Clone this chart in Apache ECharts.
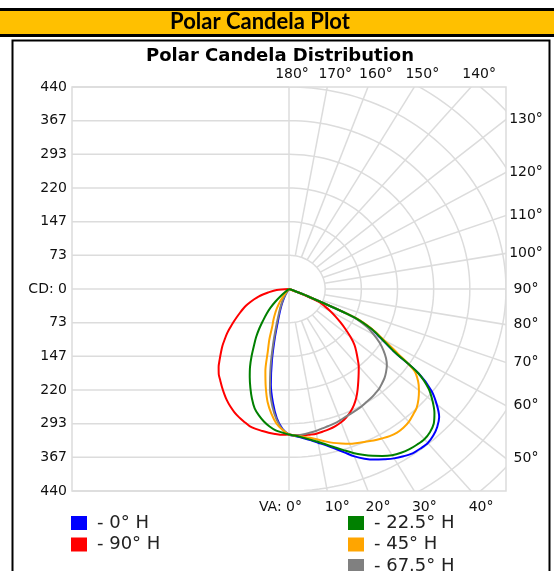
<!DOCTYPE html>
<html>
<head>
<meta charset="utf-8">
<title>Polar Candela Plot</title>
<script src="https://cdn.jsdelivr.net/npm/echarts@6/dist/echarts.min.js"></script>
<style>
  html, body { margin: 0; padding: 0; background: #fff; }
  #chart { width: 554px; height: 571px; }
</style>
</head>
<body>
<div id="chart"></div>
<script>
// vertical angles (deg from nadir) where the candela values are read
const VA = [0, 2.5, 5, 7.5, 10, 12.5, 15, 17.5, 20, 22.5, 25, 27.5, 30, 32.5, 35, 37.5,
  40, 42.5, 45, 47.5, 50, 52.5, 55, 57.5, 60, 62.5, 65, 67.5, 70, 72.5, 75, 77.5, 80, 85, 90];

// candela per plane (right half of the plot) and its opposite plane (left half)
const cd0 = [317, 321, 326, 332, 340, 349, 360, 373, 388, 400, 410, 418, 426, 432, 437, 438,
  438, 433, 425, 413, 391, 364, 321, 251, 216, 188, 145, 40, 5, 0, 0, 0, 0, 0, 0];
const cd180 = [317, 305, 283, 250, 212, 160, 112, 76, 56, 42, 31, 21, 13, 7, 3, 0,
  0, 0, 0, 0, 0, 0, 0, 0, 0, 0, 0, 0, 0, 0, 0, 0, 0, 0, 0];

const cd22 = [317, 320, 325, 331, 338, 347, 357, 368, 380, 391, 401, 410, 418, 423, 426, 427,
  427, 423, 415, 400, 380, 357, 320, 252, 217, 189, 145, 40, 5, 0, 0, 0, 0, 0, 0];
const cd202 = [317, 313, 309, 302, 293, 282, 269, 250, 229, 208, 187, 164, 142, 124, 105, 86,
  71, 56, 40, 24, 11, 3, 0, 0, 0, 0, 0, 0, 0, 0, 0, 0, 0, 0, 0];

const cd45 = [317, 320, 323, 327, 333, 340, 347, 353, 359, 363, 367, 372, 376, 380, 382, 381,
  378, 372, 366, 356, 344, 330, 310, 262, 222, 192, 148, 42, 5, 0, 0, 0, 0, 0, 0];
const cd225 = [317, 307, 294, 274, 250, 218, 185, 143, 116, 89, 75, 62, 50, 38, 26, 15,
  6, 0, 0, 0, 0, 0, 0, 0, 0, 0, 0, 0, 0, 0, 0, 0, 0, 0, 0];

const cd67 = [317, 319, 318, 316, 314, 311, 309, 307, 304, 301, 299, 297, 295, 292, 290, 287,
  284, 279, 274, 267, 259, 248, 234, 218, 198, 177, 140, 40, 5, 0, 0, 0, 0, 0, 0];
const cd247 = [317, 306, 286, 258, 222, 172, 124, 88, 64, 49, 37, 27, 18, 11, 5, 1,
  0, 0, 0, 0, 0, 0, 0, 0, 0, 0, 0, 0, 0, 0, 0, 0, 0, 0, 0];

const cd90 = [317, 319, 320, 320, 320, 318, 316, 313, 309, 303, 295, 285, 273, 259, 245, 232,
  220, 206, 193, 180, 163, 145, 128, 112, 97, 82, 68, 30, 5, 0, 0, 0, 0, 0, 0];
const cd270 = [317, 318, 317, 316, 314, 312, 309, 303, 297, 290, 282, 273, 263, 253, 243, 234,
  222, 208, 195, 183, 170, 158, 145, 133, 122, 112, 103, 94, 84, 74, 64, 53, 43, 25, 0];

// axis texts
const CD_MAX = 440;
const CD_LABELS = ['440', '367', '293', '220', '147', '73', 'CD: 0', '73', '147', '220', '293', '367', '440'];
const ANGLE_TICKS = [0, 10, 20, 30, 40, 50, 60, 70, 80, 90, 100, 110, 120, 130, 140, 150, 160, 170, 180];
const ANGLE_LABELS = ['VA: 0°', '10°', '20°', '30°', '40°', '50°', '60°', '70°', '80°', '90°',
  '100°', '110°', '120°', '130°', '140°', '150°', '160°', '170°', '180°'];

const RING_STEP = CD_MAX / 6;
const GRID_COLOR = '#dcdcdc';
const LABEL_FONT = '14px "DejaVu Sans"';

const rad = (d) => d * Math.PI / 180;

// plane on the right, opposite plane mirrored on the left; nadir at bottom
function loop(right, left) {
  const pts = [];
  for (let i = VA.length - 1; i >= 0; i--) {
    pts.push([-left[i] * Math.sin(rad(VA[i])), -left[i] * Math.cos(rad(VA[i]))]);
  }
  for (let i = 1; i < VA.length; i++) {
    pts.push([right[i] * Math.sin(rad(VA[i])), -right[i] * Math.cos(rad(VA[i]))]);
  }
  return pts;
}

function renderGrid(params, api) {
  const cs = params.coordSys;
  const ls = { stroke: GRID_COLOR, lineWidth: 1.5, fill: null };
  const seg = (p, q) => ({ type: 'line', shape: { x1: p[0], y1: p[1], x2: q[0], y2: q[1] }, style: ls });
  const polar = (r, a) => api.coord([r * Math.sin(rad(a)), -r * Math.cos(rad(a))]);

  // right half: rings and spokes, clipped to the plot box
  const polarParts = [];
  for (let k = 1; k <= 8; k++) {
    const pts = [];
    for (let a = 0; a <= 180; a += 2) pts.push(polar(k * RING_STEP, a));
    polarParts.push({ type: 'polyline', shape: { points: pts }, style: ls });
  }
  for (let a = 10; a < 180; a += 10) polarParts.push(seg(polar(RING_STEP, a), polar(1200, a)));

  const children = [{
    type: 'group',
    children: polarParts,
    clipPath: { type: 'rect', shape: { x: cs.x, y: cs.y, width: cs.width, height: cs.height } }
  }];

  // left half: plain horizontal lines
  for (let k = -6; k <= 6; k++) {
    children.push(seg(api.coord([-CD_MAX, k * RING_STEP]), api.coord([0, k * RING_STEP])));
  }
  children.push(seg(api.coord([0, -CD_MAX]), api.coord([0, CD_MAX])));
  children.push({ type: 'rect', shape: { x: cs.x, y: cs.y, width: cs.width, height: cs.height }, style: ls });

  // angle labels where the spokes meet the box
  ANGLE_TICKS.forEach((a, i) => {
    const s = Math.sin(rad(a)), c = Math.cos(rad(a));
    const ts = Math.abs(s) > 1e-6 ? CD_MAX / Math.abs(s) : Infinity;
    const tc = Math.abs(c) > 1e-6 ? CD_MAX / Math.abs(c) : Infinity;
    const t = Math.min(ts, tc);
    const hit = api.coord([t * s, -t * c]);
    let x, y, align = 'center';
    if (ts < tc) {            // right edge
      x = hit[0] + 20; y = hit[1];
    } else if (c > 0) {       // bottom edge
      y = hit[1] + 16;
      if (a === 0) { x = hit[0] + 13; align = 'right'; } else { x = hit[0] + 10; }
    } else {                  // top edge
      y = hit[1] - 13;
      x = hit[0] + (a === 180 ? 3 : 8);
    }
    children.push({
      type: 'text', x: x, y: y,
      style: {
        text: ANGLE_LABELS[i], font: LABEL_FONT, fill: '#111',
        textAlign: align, align: align, textVerticalAlign: 'middle', verticalAlign: 'middle'
      }
    });
  });

  return { type: 'group', children: children };
}

const planes = [
  { name: '0° H', color: '#0000ff', right: cd0, left: cd180 },
  { name: '90° H', color: '#ff0000', right: cd90, left: cd270 },
  { name: '67.5° H', color: '#808080', right: cd67, left: cd247 },
  { name: '45° H', color: '#ffa500', right: cd45, left: cd225 },
  { name: '22.5° H', color: '#008000', right: cd22, left: cd202 }
];

const legendCommon = {
  orient: 'vertical',
  icon: 'rect',
  itemWidth: 16,
  itemHeight: 14,
  itemGap: 3.5,
  height: 120,
  padding: 0,
  selectedMode: false,
  formatter: '- {name}',
  textStyle: { fontFamily: 'DejaVu Sans', fontSize: 18, color: '#222', lineHeight: 14, padding: [0, 0, 0, 5] }
};

const chart = echarts.init(document.getElementById('chart'), null, { renderer: 'canvas' });
chart.setOption({
  animation: false,
  backgroundColor: '#fff',
  graphic: [
    { type: 'rect', shape: { x: 0, y: 8, width: 554, height: 3 }, style: { fill: '#000' } },
    { type: 'rect', shape: { x: 0, y: 11, width: 554, height: 23 }, style: { fill: '#ffc000' } },
    { type: 'rect', shape: { x: 0, y: 34, width: 554, height: 3 }, style: { fill: '#000' } },
    {
      type: 'text', x: 260, y: 22,
      style: { text: 'Polar Candela Plot', font: 'bold 22px Lato', fill: '#000',
        textAlign: 'center', align: 'center', textVerticalAlign: 'middle', verticalAlign: 'middle' }
    },
    { type: 'rect', shape: { x: 12.5, y: 40.5, width: 537, height: 600 }, style: { fill: null, stroke: '#000', lineWidth: 2 } },
    {
      type: 'text', x: 280, y: 56,
      style: { text: 'Polar Candela Distribution', font: 'bold 18px "DejaVu Sans"', fill: '#000',
        textAlign: 'center', align: 'center', textVerticalAlign: 'middle', verticalAlign: 'middle' }
    }
  ],
  legend: [
    Object.assign({ data: ['0° H', '90° H'], left: 71, top: 514 }, legendCommon),
    Object.assign({ data: ['22.5° H', '45° H', '67.5° H'], left: 348, top: 514 }, legendCommon)
  ],
  grid: { left: 72, right: 48, top: 87, bottom: 80 },
  xAxis: { type: 'value', min: -CD_MAX, max: CD_MAX, show: false },
  yAxis: {
    type: 'value', min: -CD_MAX, max: CD_MAX, interval: RING_STEP,
    axisLine: { show: false }, axisTick: { show: false }, splitLine: { show: false },
    axisLabel: {
      margin: 5, fontFamily: 'DejaVu Sans', fontSize: 14, color: '#111',
      formatter: (v) => CD_LABELS[Math.round((v + CD_MAX) / RING_STEP)]
    }
  },
  series: [
    { type: 'custom', silent: true, z: 1, renderItem: renderGrid, data: [[0, 0]] }
  ].concat(planes.map((p) => ({
    name: p.name,
    type: 'line',
    z: 2,
    color: p.color,
    showSymbol: false,
    smooth: 0.3,
    lineStyle: { width: 2, color: p.color },
    data: loop(p.right, p.left)
  })))
});
</script>
</body>
</html>
